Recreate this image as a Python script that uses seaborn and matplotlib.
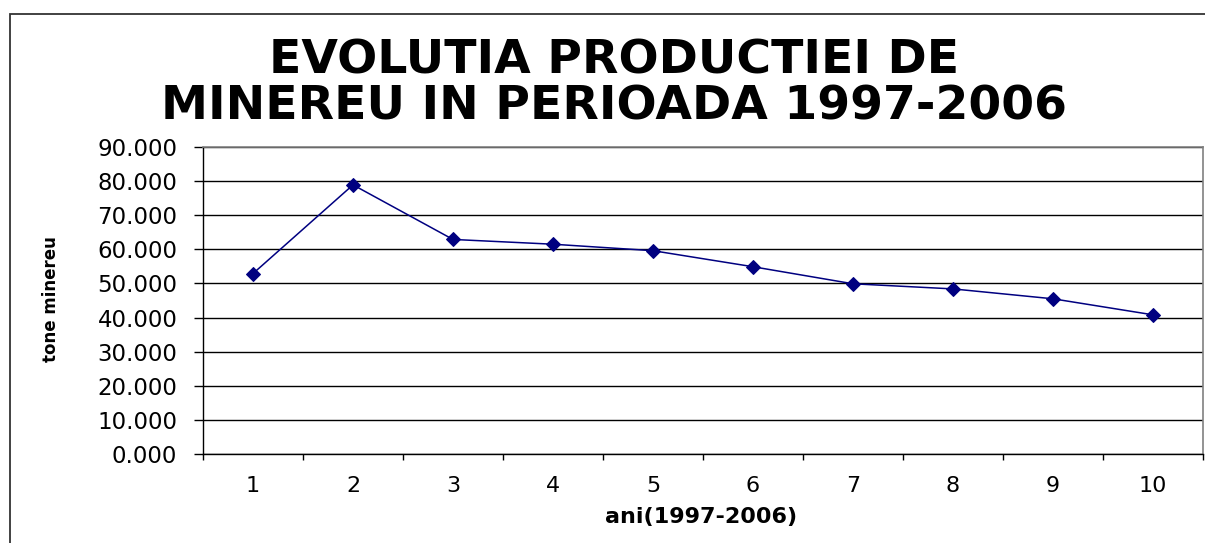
import matplotlib
matplotlib.use("Agg")
import matplotlib.pyplot as plt
import seaborn as sns
import pandas as pd
from matplotlib.patches import Rectangle
from matplotlib.ticker import FixedLocator, FuncFormatter

# ---- data ----
years = [1, 2, 3, 4, 5, 6, 7, 8, 9, 10]
tick_labels = ["1", "2", "3", "4", "5", "6", "7", "8", "9", "10"]
production = [52.9, 78.9, 62.9, 61.5, 59.6, 54.9, 49.9, 48.4, 45.5, 40.8]
y_ticks = [0, 10, 20, 30, 40, 50, 60, 70, 80, 90]

title_line1 = "EVOLUTIA PRODUCTIEI DE"
title_line2 = "MINEREU IN PERIOADA 1997-2006"
x_label = "ani(1997-2006)"
y_label = "tone minereu"

df = pd.DataFrame({"an": years, "productie": production})

sns.set_theme(style="white")
plt.rcParams["font.family"] = ["DejaVu Sans"]

W, H = 1205, 543
fig = plt.figure(figsize=(W / 100, H / 100), dpi=100)
fig.patch.set_facecolor("white")

# axes placement (pixels -> fractions)
left, right, top, bottom = 203, 1203, 147, 454
ax = fig.add_axes([left / W, (H - bottom) / H, (right - left) / W, (bottom - top) / H])
ax.set_facecolor("white")

sns.lineplot(data=df, x="an", y="productie", ax=ax, color="#000080",
             linewidth=1.1, marker="D", markersize=7,
             markeredgecolor="#000080", markerfacecolor="#000080")

ax.set_xlim(0.5, 10.5)
ax.set_ylim(0, 90)

# y axis
ax.yaxis.set_major_locator(FixedLocator(y_ticks))
ax.yaxis.set_major_formatter(FuncFormatter(lambda v, p: f"{v:.3f}"))
ax.tick_params(axis="y", which="major", direction="out", length=6.5, width=1,
               color="black", pad=12, labelsize=16.5, labelcolor="black", left=True)
ax.yaxis.grid(True, color="black", linewidth=1)
ax.set_axisbelow(True)

# x axis: labels at category centers, ticks at boundaries
ax.xaxis.set_major_locator(FixedLocator(years))
ax.set_xticklabels(tick_labels)
ax.xaxis.set_minor_locator(FixedLocator([y + 0.5 for y in [0] + years]))
ax.tick_params(axis="x", which="major", length=0, pad=16, labelsize=16, labelcolor="black")
ax.tick_params(axis="x", which="minor", direction="out", length=4.5, width=1,
               color="black", bottom=True)
ax.xaxis.grid(False)

for side in ["left", "bottom"]:
    ax.spines[side].set_color("black")
    ax.spines[side].set_linewidth(1)
for side in ["top", "right"]:
    ax.spines[side].set_color("#808080")
    ax.spines[side].set_linewidth(1.2)

ax.set_xlabel(x_label, fontsize=16, fontweight="bold", color="black")
ax.xaxis.set_label_coords(0.4985, -0.172)
ax.xaxis.label.set_va("top")

ax.set_ylabel(y_label, fontsize=12, fontweight="bold", color="black")
ax.yaxis.set_label_coords(-0.143, 0.505)

# title (two lines)
fig.text(614 / W, 1 - 73 / H, title_line1, ha="center", va="baseline",
         fontsize=34, fontweight="bold", color="black")
fig.text(614 / W, 1 - 119 / H, title_line2, ha="center", va="baseline",
         fontsize=34, fontweight="bold", color="black")

# chart-area border
fig.patches.append(Rectangle((10 / W, -0.05), 1.2, (H - 13.5) / H + 0.05,
                             transform=fig.transFigure, fill=False,
                             edgecolor="#333333", linewidth=1.3, zorder=0))

fig.savefig("out.png", dpi=100, facecolor="white")
